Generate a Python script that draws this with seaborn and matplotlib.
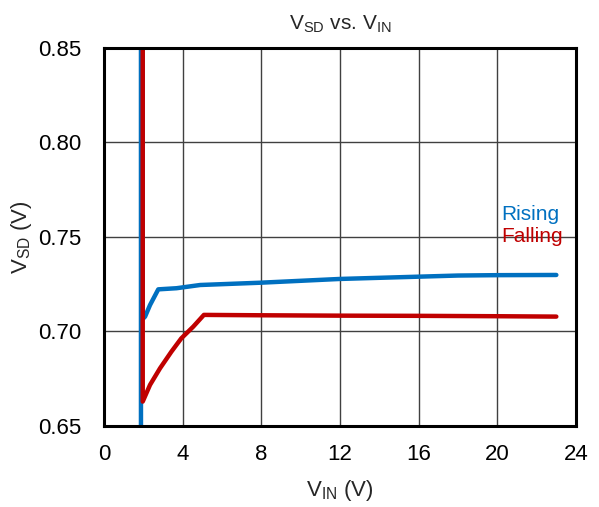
import matplotlib
matplotlib.use("Agg")
import matplotlib.pyplot as plt
import pandas as pd
import seaborn as sns

sns.set_theme(style="white")
plt.rcParams["font.family"] = ["Liberation Sans", "DejaVu Sans"]
plt.rcParams["mathtext.fontset"] = "custom"
plt.rcParams["mathtext.rm"] = "Liberation Sans"
plt.rcParams["mathtext.it"] = "Liberation Sans"

# Rising V_IN sweep
rising_vin = [1.88, 1.88, 1.97, 1.97, 2.09, 2.34, 2.76, 3.69, 4.89, 7.93, 12.0, 16.0, 18.0, 20.0, 23.0]
rising_vsd = [0.60, 0.90, 0.90, 0.7065, 0.7078, 0.7139, 0.7222, 0.7228, 0.7245, 0.7257, 0.7277, 0.7289, 0.7295, 0.7297, 0.7298]

# Falling V_IN sweep
falling_vin = [1.97, 1.97, 2.34, 2.85, 3.43, 3.93, 4.54, 5.08, 8.0, 12.0, 16.0, 20.0, 23.0]
falling_vsd = [0.90, 0.6629, 0.6717, 0.6805, 0.6893, 0.6963, 0.7025, 0.7087, 0.7085, 0.7083, 0.7082, 0.7080, 0.7078]

series_names = ["Rising", "Falling"]
series_colors = ["#0070C0", "#C00000"]

x_ticks = [0, 4, 8, 12, 16, 20, 24]
y_ticks = [0.65, 0.70, 0.75, 0.80, 0.85]

df = pd.concat([
    pd.DataFrame({"vin": rising_vin, "vsd": rising_vsd, "sweep": series_names[0]}),
    pd.DataFrame({"vin": falling_vin, "vsd": falling_vsd, "sweep": series_names[1]}),
], ignore_index=True)

fig = plt.figure(figsize=(5.99, 5.07), dpi=100)
ax = fig.add_axes([0.1736, 0.1598, 0.7880, 0.7465])

sns.lineplot(data=df, x="vin", y="vsd", hue="sweep", units="sweep", estimator=None,
             sort=False, palette=dict(zip(series_names, series_colors)),
             linewidth=3.2, legend=False, ax=ax)

ax.set_xlim(0, 24)
ax.set_ylim(0.65, 0.85)
ax.set_xticks(x_ticks)
ax.set_yticks(y_ticks)
ax.set_xticklabels([str(t) for t in x_ticks])
ax.set_yticklabels([f"{t:.2f}" for t in y_ticks])
ax.tick_params(axis="both", length=0, labelsize=16, colors="black")
ax.tick_params(axis="x", pad=13)
ax.tick_params(axis="y", pad=16)

ax.grid(True, color="#404040", linewidth=1.0)
ax.set_axisbelow(True)
for s in ax.spines.values():
    s.set_color("black")
    s.set_linewidth(2.2)

ax.set_title(r"V$_{\mathregular{SD}}$ vs. V$_{\mathregular{IN}}$", fontsize=15, pad=13)
ax.set_xlabel(r"V$_{\mathregular{IN}}$ (V)", fontsize=16, labelpad=9)
ax.set_ylabel(r"V$_{\mathregular{SD}}$ (V)", fontsize=16, labelpad=3)

ax.text(20.2, 0.762, series_names[0], color=series_colors[0], fontsize=15, va="center", ha="left")
ax.text(20.2, 0.7499, series_names[1], color=series_colors[1], fontsize=15, va="center", ha="left")

fig.savefig("out.png", dpi=100)
